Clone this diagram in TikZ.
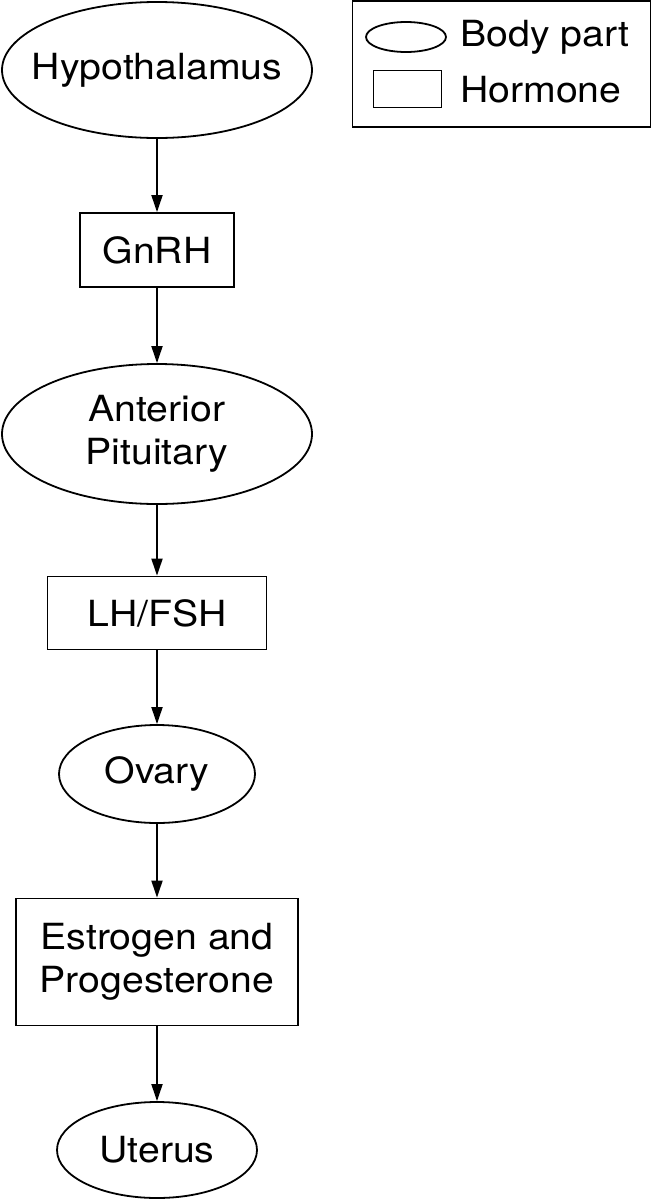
\documentclass[tikz,border=0pt]{standalone}
\usepackage{fontspec}
\setmainfont{TeX Gyre Heros}[FakeStretch=1.09]
\usetikzlibrary{shapes.geometric,arrows.meta}
\begin{document}
\begin{tikzpicture}[x=1pt,y=-1pt,
  every node/.style={font=\fontsize{36}{43}\selectfont, align=center, inner sep=0pt},
  part/.style={draw, line width=1.8pt, ellipse},
  horm/.style={draw, line width=1.8pt, rectangle},
  flow/.style={line width=1.8pt, -{Triangle[length=17pt,width=11pt]}}]
\useasboundingbox (0,0) rectangle (652,1200);
% nodes
\node[part, minimum width=310pt, minimum height=136pt] (hyp) at (157,70) {\makebox[0pt][c]{Hypothalamus}};
\node[horm, minimum width=154pt, minimum height=74pt] (gnrh) at (157,250) {GnRH};
\node[part, minimum width=310pt, minimum height=140pt] (ap) at (157,434) {Anterior\\Pituitary};
\node[horm, minimum width=219pt, minimum height=73pt] (lh) at (157,613) {LH/FSH};
\node[part, minimum width=196pt, minimum height=98pt] (ov) at (157,774) {Ovary};
\node[horm, minimum width=282pt, minimum height=127pt] (ep) at (157,962) {Estrogen and\\Progesterone};
\node[part, minimum width=200pt, minimum height=96pt] (ut) at (157,1150) {Uterus};
% connectors
\draw[flow] (hyp) -- (gnrh);
\draw[flow] (gnrh) -- (ap);
\draw[flow] (ap) -- (lh);
\draw[flow] (lh) -- (ov);
\draw[flow] (ov) -- (ep);
\draw[flow] (ep) -- (ut);
% legend
\node[draw, line width=1.8pt, minimum width=298pt, minimum height=126pt] (leg) at (501.5,64) {};
\node[part, minimum width=80pt, minimum height=30pt] (legpart) at (406,37) {};
\node[horm, minimum width=68pt, minimum height=37pt] (leghorm) at (407.5,89) {};
\node[anchor=west] (legpartt) at (460,37) {Body part};
\node[anchor=west] (leghormt) at (460,90) {Hormone};
\end{tikzpicture}
\end{document}
